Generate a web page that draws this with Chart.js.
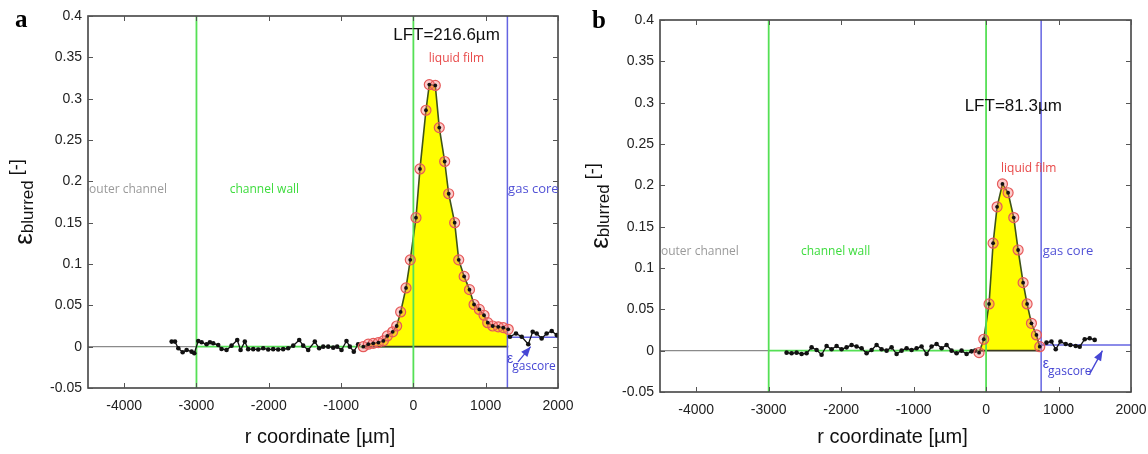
<!DOCTYPE html>
<html>
<head>
<meta charset="utf-8">
<script src="https://cdn.jsdelivr.net/npm/chart.js@4.4.0/dist/chart.umd.min.js"></script>
<style>
  html, body { margin: 0; padding: 0; background: #fff; }
  #wrap { display: flex; width: 1148px; height: 454px; }
  .panel { position: relative; height: 454px; }
  #pa { width: 576px; }
  #pb { width: 572px; }
</style>
</head>
<body>
<div id="wrap">
  <div class="panel" id="pa"><canvas id="chartA"></canvas></div>
  <div class="panel" id="pb"><canvas id="chartB"></canvas></div>
</div>
<script>
// axes
const xTicks = [-4000, -3000, -2000, -1000, 0, 1000, 2000];
const xTickLabels = ['-4000', '-3000', '-2000', '-1000', '0', '1000', '2000'];
const yTicks = [-0.05, 0, 0.05, 0.1, 0.15, 0.2, 0.25, 0.3, 0.35, 0.4];
const yTickLabels = ['-0.05', '0', '0.05', '0.1', '0.15', '0.2', '0.25', '0.3', '0.35', '0.4'];

// panel a - noise in channel wall
const aWallR = [-3343, -3297, -3251, -3191, -3136, -3067, -3030, -2975, -2929, -2860, -2814, -2768, -2699, -2653,
  -2584, -2515, -2436, -2390, -2331, -2285, -2215, -2146, -2077, -2008, -1939, -1870, -1801, -1732, -1662,
  -1579, -1524, -1455, -1363, -1303, -1247, -1178, -1109, -1054, -994, -925, -879, -824, -764];
const aWallEps = [0.0061, 0.0061, -0.002, -0.0068, -0.004, -0.006, -0.008, 0.0069, 0.0053, 0.0029, 0.0053, 0.0041,
  0.002, -0.0028, -0.004, 0.0012, 0.0081, -0.004, 0.0061, -0.003, -0.003, -0.0035, -0.002, -0.0035, -0.003,
  -0.0035, -0.003, -0.002, 0.0012, 0.0081, 0.0012, -0.004, 0.0061, -0.002, 0.0, 0.0, -0.0012, 0.0, -0.004,
  0.0069, 0.0, -0.006, 0.0029];
// panel a - liquid film
const aFilmR = [-693, -624, -555, -484, -415, -361, -286, -231, -176, -102, -43, 36, 91, 174, 220, 303, 358, 433,
  488, 571, 627, 702, 776, 839, 912, 977, 1028, 1097, 1174, 1243, 1312];
const aFilmEps = [0.0, 0.003, 0.004, 0.005, 0.007, 0.013, 0.018, 0.025, 0.042, 0.071, 0.105, 0.156, 0.215, 0.286,
  0.317, 0.316, 0.265, 0.224, 0.185, 0.150, 0.105, 0.085, 0.069, 0.051, 0.045, 0.038, 0.029, 0.025, 0.024,
  0.023, 0.021];
// panel a - gas core
const aGasR = [1336, 1419, 1498, 1589, 1650, 1705, 1774, 1843, 1913, 1982];
const aGasEps = [0.012, 0.016, 0.012, 0.003, 0.018, 0.016, 0.010, 0.016, 0.019, 0.014];
const aBoundR = [-3000, 0, 1300];   // channel wall start, wall/film, gas core
const aGasCoreEps = 0.0114;

// panel b - noise in channel wall
const bWallR = [-2753, -2684, -2615, -2546, -2477, -2408, -2339, -2270, -2201, -2132, -2063, -1994, -1925, -1856,
  -1787, -1718, -1649, -1580, -1511, -1442, -1373, -1304, -1235, -1166, -1097, -1028, -959, -890, -821, -752,
  -683, -614, -545, -476, -407, -338, -269, -200, -150];
const bWallEps = [-0.0024, -0.0032, -0.0024, -0.004, -0.0032, 0.004, 0.0008, -0.005, 0.0057, 0.0017, 0.0057,
  0.0017, 0.004, 0.0069, 0.005, 0.0029, -0.0032, 0.0008, 0.0069, 0.0017, 0.0, 0.004, -0.004, 0.0, 0.0029,
  0.0008, 0.0029, 0.005, -0.004, 0.005, 0.0081, 0.0029, 0.0069, 0.0, -0.0032, 0.0, -0.004, -0.0008, 0.0];
// panel b - liquid film
const bFilmR = [-97, -32, 41, 97, 152, 226, 304, 382, 442, 511, 566, 626, 695, 741];
const bFilmEps = [-0.0024, 0.0138, 0.0565, 0.130, 0.174, 0.2017, 0.191, 0.161, 0.1218, 0.0823, 0.0565, 0.0331,
  0.019, 0.0048];
// panel b - gas core
const bGasR = [833, 902, 961, 1026, 1099, 1164, 1237, 1292, 1361, 1430, 1499];
const bGasEps = [0.0097, 0.011, 0.0017, 0.011, 0.008, 0.0069, 0.0057, 0.0048, 0.0138, 0.015, 0.013];
const bBoundR = [-3000, 0, 760];
const bGasCoreEps = 0.0069;

const pts = (xs, ys) => xs.map((v, i) => ({ x: v, y: ys[i] }));
const seg = (x0, y0, x1, y1) => [{ x: x0, y: y0 }, { x: x1, y: y1 }];

const GREEN = '#55e055';
const BLUE = '#6464e2';

function buildDatasets(wallR, wallEps, filmR, filmEps, gasR, gasEps, bound, gasEps0) {
  const plain = (data, color, width, order) => ({
    data, borderColor: color, borderWidth: width, pointRadius: 0, fill: false, order
  });
  const film = pts(filmR, filmEps);
  return [
    plain(seg(-4500, 0, bound[0], 0), '#8a8a8a', 1.2, 20),
    plain(seg(bound[0], 0, bound[1], 0), GREEN, 1.8, 20),
    { data: film, borderColor: '#3f5418', borderWidth: 1.6, backgroundColor: '#ffff00',
      fill: 'origin', pointRadius: 0, order: 15 },
    plain(seg(filmR[0], 0, filmR[filmR.length - 1], 0), '#3a3a22', 1.6, 14),
    plain(seg(bound[0], -0.05, bound[0], 0.4), GREEN, 1.8, 12),
    plain(seg(bound[1], -0.05, bound[1], 0.4), GREEN, 1.8, 12),
    plain(seg(bound[2], -0.05, bound[2], 0.4), BLUE, 1.5, 12),
    plain(seg(bound[2], gasEps0, 2000, gasEps0), BLUE, 1.6, 12),
    { data: pts(wallR, wallEps), borderColor: '#111', borderWidth: 1.3, pointRadius: 2.3,
      pointBackgroundColor: '#111', pointBorderWidth: 0, fill: false, order: 5 },
    { data: pts(gasR, gasEps), borderColor: '#111', borderWidth: 1.3, pointRadius: 2.3,
      pointBackgroundColor: '#111', pointBorderWidth: 0, fill: false, order: 5 },
    { data: film, showLine: false, pointRadius: 5, pointBorderWidth: 1.2,
      pointBorderColor: '#e65a5a', pointBackgroundColor: 'rgba(245,110,110,0.35)', order: 3 },
    { data: film, showLine: false, pointRadius: 1.9, pointBorderWidth: 0,
      pointBackgroundColor: '#111', order: 2 }
  ];
}

const tickFont = { family: '"Liberation Sans", Arial, sans-serif', size: 14 };

// frame, inward ticks, text annotations
const decoPlugin = {
  id: 'deco',
  afterDraw(chart, args, o) {
    const { ctx, chartArea: ca, scales: { x, y } } = chart;
    ctx.save();
    ctx.strokeStyle = '#444';
    ctx.lineWidth = 1.6;
    ctx.strokeRect(ca.left, ca.top, ca.width, ca.height);

    ctx.strokeStyle = '#555';
    ctx.lineWidth = 1;
    ctx.beginPath();
    xTicks.forEach(v => {
      const px = Math.round(x.getPixelForValue(v)) + 0.5;
      ctx.moveTo(px, ca.bottom); ctx.lineTo(px, ca.bottom - 5);
      ctx.moveTo(px, ca.top); ctx.lineTo(px, ca.top + 5);
    });
    yTicks.forEach(v => {
      const py = Math.round(y.getPixelForValue(v)) + 0.5;
      ctx.moveTo(ca.left, py); ctx.lineTo(ca.left + 5, py);
      ctx.moveTo(ca.right, py); ctx.lineTo(ca.right - 5, py);
    });
    ctx.stroke();

    // region labels
    ctx.textBaseline = 'middle';
    o.labels.forEach(l => {
      ctx.font = l.font || '12px "Open Sans", sans-serif';
      ctx.fillStyle = l.color;
      ctx.textAlign = l.align || 'left';
      ctx.fillText(l.text, x.getPixelForValue(l.x), y.getPixelForValue(l.y));
    });

    // epsilon gascore + arrow
    ctx.textAlign = 'left';
    ctx.textBaseline = 'alphabetic';
    ctx.fillStyle = '#4646d4';
    const ex = x.getPixelForValue(o.epsAt[0]), ey = y.getPixelForValue(o.epsAt[1]);
    ctx.font = '14px "Liberation Sans", sans-serif';
    ctx.fillText('ε', ex, ey);
    const ew = ctx.measureText('ε').width;
    ctx.font = '12px "Open Sans", sans-serif';
    ctx.fillText('gascore', ex + ew - 1, ey + 7);
    const ax0 = x.getPixelForValue(o.arrow[0]), ay0 = y.getPixelForValue(o.arrow[1]);
    const ax1 = x.getPixelForValue(o.arrow[2]), ay1 = y.getPixelForValue(o.arrow[3]);
    ctx.strokeStyle = '#4646d4';
    ctx.lineWidth = 1.3;
    ctx.beginPath(); ctx.moveTo(ax0, ay0); ctx.lineTo(ax1, ay1); ctx.stroke();
    const ang = Math.atan2(ay1 - ay0, ax1 - ax0);
    ctx.beginPath();
    ctx.moveTo(ax1, ay1);
    ctx.lineTo(ax1 - 10 * Math.cos(ang) + 4 * Math.sin(ang), ay1 - 10 * Math.sin(ang) - 4 * Math.cos(ang));
    ctx.lineTo(ax1 - 10 * Math.cos(ang) - 4 * Math.sin(ang), ay1 - 10 * Math.sin(ang) + 4 * Math.cos(ang));
    ctx.closePath(); ctx.fill();

    // x title
    ctx.fillStyle = '#111';
    ctx.font = '20px "Liberation Sans", Arial, sans-serif';
    ctx.textAlign = 'center';
    ctx.textBaseline = 'middle';
    ctx.fillText('r coordinate [µm]', (ca.left + ca.right) / 2 - 3, 437);

    // y title, rotated, with subscript
    ctx.save();
    ctx.translate(ca.left - o.titleOff, (ca.top + ca.bottom) / 2);
    ctx.rotate(-Math.PI / 2);
    ctx.textAlign = 'left';
    ctx.textBaseline = 'alphabetic';
    const fE = '26px "Liberation Sans", Arial, sans-serif';
    const fS = '17px "Liberation Sans", Arial, sans-serif';
    const fR = '18px "Liberation Sans", Arial, sans-serif';
    ctx.font = fE; const wE = ctx.measureText('ε').width;
    ctx.font = fS; const wS = ctx.measureText('blurred').width;
    ctx.font = fR; const wR = ctx.measureText(' [-]').width;
    let u = -(wE + wS + wR) / 2;
    ctx.font = fE; ctx.fillText('ε', u, 0); u += wE;
    ctx.font = fS; ctx.fillText('blurred', u, 1); u += wS;
    ctx.font = fR; ctx.fillText(' [-]', u, -10);
    ctx.restore();

    // panel letter
    ctx.font = 'bold 25px "Liberation Serif", "Times New Roman", serif';
    ctx.textAlign = 'left';
    ctx.textBaseline = 'alphabetic';
    ctx.fillStyle = '#000';
    ctx.fillText(o.letter, o.letterPos[0], o.letterPos[1]);
    ctx.restore();
  }
};

function makeChart(id, datasets, layout, deco) {
  return new Chart(document.getElementById(id), {
    type: 'line',
    data: { datasets },
    plugins: [decoPlugin],
    options: {
      responsive: true,
      maintainAspectRatio: false,
      animation: false,
      devicePixelRatio: 1,
      layout: { padding: { left: 0, right: layout.right, top: layout.top, bottom: 0 } },
      elements: { line: { tension: 0 } },
      plugins: { legend: { display: false }, tooltip: { enabled: false }, deco },
      scales: {
        x: {
          type: 'linear', min: -4500, max: 2000,
          afterBuildTicks: s => { s.ticks = xTicks.map(v => ({ value: v })); },
          afterFit: s => { s.height = layout.xH; },
          grid: { drawOnChartArea: false, drawTicks: true, tickLength: 9, color: 'rgba(0,0,0,0)' },
          border: { display: false },
          ticks: { padding: 1, font: tickFont, color: '#222', maxRotation: 0, autoSkip: false,
            callback: (v, i) => xTickLabels[i] }
        },
        y: {
          type: 'linear', min: -0.05, max: 0.4,
          afterBuildTicks: s => { s.ticks = yTicks.map(v => ({ value: v })); },
          afterFit: s => { s.width = layout.yW; },
          grid: { drawOnChartArea: false, drawTicks: false },
          border: { display: false },
          ticks: { padding: 6, font: tickFont, color: '#222', callback: (v, i) => yTickLabels[i] }
        }
      }
    }
  });
}

makeChart('chartA',
  buildDatasets(aWallR, aWallEps, aFilmR, aFilmEps, aGasR, aGasEps, aBoundR, aGasCoreEps),
  { right: 18, top: 16, xH: 66, yW: 88 },
  {
    letter: 'a', letterPos: [15, 27], titleOff: 56,
    epsAt: [1295, -0.020], arrow: [1447, -0.0185, 1622, 0.0],
    labels: [
      { text: 'outer channel', x: -4485, y: 0.19, color: '#9a9a9a' },
      { text: 'channel wall', x: -2540, y: 0.19, color: '#3ddc3d' },
      { text: 'gas core', x: 1310, y: 0.19, color: '#5252d6', font: '13px "Open Sans", sans-serif' },
      { text: 'liquid film', x: 596, y: 0.348, color: '#e84848', align: 'center' },
      { text: 'LFT=216.6µm', x: 458, y: 0.377, color: '#111', align: 'center',
        font: '17px "Liberation Sans", Arial, sans-serif' }
    ]
  });

makeChart('chartB',
  buildDatasets(bWallR, bWallEps, bFilmR, bFilmEps, bGasR, bGasEps, bBoundR, bGasCoreEps),
  { right: 17, top: 20, xH: 62, yW: 84 },
  {
    letter: 'b', letterPos: [16, 28], titleOff: 52,
    epsAt: [782, -0.021], arrow: [1430, -0.028, 1606, 0.0],
    labels: [
      { text: 'outer channel', x: -4486, y: 0.12, color: '#9a9a9a' },
      { text: 'channel wall', x: -2555, y: 0.12, color: '#3ddc3d' },
      { text: 'gas core', x: 782, y: 0.12, color: '#5252d6', font: '13px "Open Sans", sans-serif' },
      { text: 'liquid film', x: 589, y: 0.22, color: '#e84848', align: 'center' },
      { text: 'LFT=81.3µm', x: 375, y: 0.296, color: '#111', align: 'center',
        font: '17px "Liberation Sans", Arial, sans-serif' }
    ]
  });
</script>
</body>
</html>
